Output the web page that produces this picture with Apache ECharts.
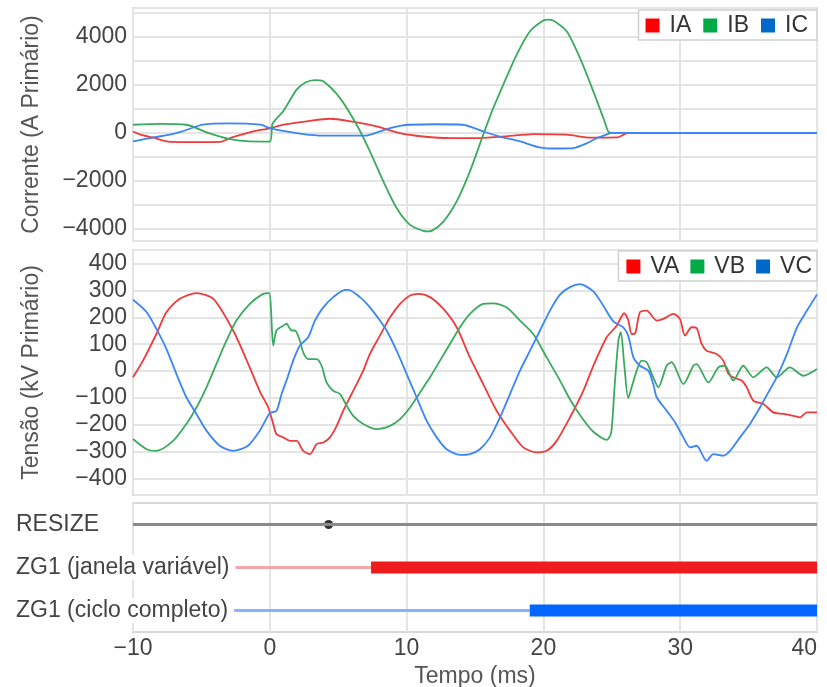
<!DOCTYPE html>
<html>
<head>
<meta charset="utf-8">
<script src="https://cdn.jsdelivr.net/npm/echarts@6/dist/echarts.min.js"></script>
<style>
  html, body { margin: 0; padding: 0; background: #fff; }
  #chart-container { width: 827px; height: 687px; }
</style>
</head>
<body>
<div id="chart-container"></div>
<script>
var IA = [[-10, 60], [-9.5, -60], [-8.5, -200], [-7.3, -370], [-5.5, -380], [-3.6, -370], [-2.8, -200],
  [-1.2, 60], [0, 190], [1.0, 340], [2.7, 480], [4.4, 590], [5.9, 480], [7.8, 270], [9.5, -10],
  [11.2, -150], [13.2, -220], [15.1, -220], [17.1, -150], [19.3, -50], [21.7, -75], [23.5, -200],
  [25.4, -190], [25.9, -60], [26.2, 0], [40, 0]];
var IB = [[-10, 340], [-8, 380], [-6.1, 340], [-4.5, 0], [-3.0, -250], [-1.5, -354], [0, -360],
  [0.2, 380], [0.98, 900], [1.96, 1800], [2.6, 2100], [3.3, 2200], [3.91, 2150], [5.13, 1450],
  [6.35, 340], [7.32, -770], [8.3, -2020], [9.27, -3130], [10.25, -3830], [11.22, -4080],
  [11.5, -4100], [11.83, -4080], [12.69, -3690], [13.66, -2850], [14.63, -1600], [15.6, -80],
  [16.33, 1030], [17.07, 2010], [18.05, 3260], [19.02, 4230], [19.99, 4680], [20.35, 4720],
  [20.72, 4680], [21.7, 4230], [22.67, 3120], [23.65, 1730], [24.38, 620], [24.74, 60], [25.0, 0], [40, 0]];
var IC = [[-10, -354], [-8.8, -217], [-7.3, -75], [-6.4, 62], [-4.9, 342], [-3, 400], [-0.7, 342],
  [0, 200], [1.2, 60], [2.9, -80], [4.5, -115], [7.0, -115], [8.0, 50], [8.8, 200], [9.6, 300],
  [10.2, 340], [12.0, 360], [14.1, 340], [15.6, 60], [16.8, -150], [18.3, -354], [19.7, -600],
  [21.0, -650], [22.2, -630], [23.2, -425], [23.9, -217], [24.6, -75], [25.0, 0], [40, 0]];

var VA = [[-10, -23], [-9.27, 39], [-8.29, 138], [-7.56, 219], [-6.58, 269], [-5.36, 290], [-4.14, 269],
  [-2.68, 151], [-1.6, 30], [-0.72, -76], [-0.11, -135], [0.25, -196], [0.49, -234], [0.98, -246],
  [1.47, -259], [1.96, -259], [2.44, -296], [2.94, -308], [3.42, -271], [3.91, -265], [4.4, -246],
  [4.89, -203], [5.37, -147], [5.86, -97], [6.35, -48], [6.83, 2], [7.32, 64], [8.05, 132], [8.79, 200],
  [9.52, 250], [10.25, 281], [10.86, 287], [11.71, 275], [12.69, 231], [13.66, 163], [14.63, 51],
  [15.6, -48], [16.58, -147], [17.56, -221], [18.53, -283], [19.51, -302], [20.24, -296], [20.97, -259],
  [21.94, -172], [22.92, -73], [23.65, 20], [24.63, 126], [25.36, 169], [25.9, 215], [26.21, 188],
  [26.45, 138], [26.7, 140], [27.06, 219], [27.55, 225], [28.28, 188], [28.77, 194], [29.5, 213],
  [29.98, 194], [30.35, 132], [30.84, 163], [31.2, 160], [31.57, 101], [31.93, 76], [32.66, 64],
  [33.15, 39], [33.52, -10], [33.88, -23], [34.49, -35], [34.86, -60], [35.35, -110], [36.08, -122],
  [36.81, -153], [37.54, -159], [38.27, -166], [38.76, -172], [39.25, -153], [40, -153]];
var VB = [[-10, -252], [-9.0, -290], [-8.29, -296], [-7.07, -259], [-6.10, -196], [-5.36, -135],
  [-4.63, -60], [-3.9, 27], [-3.17, 113], [-2.44, 188], [-1.46, 250], [-0.49, 287], [-0.05, 290],
  [0.25, 95], [0.49, 151], [0.98, 169], [1.22, 176], [1.59, 151], [1.84, 151], [2.2, 113], [2.44, 70],
  [2.81, 45], [3.42, 45], [3.79, 20], [4.15, -42], [4.64, -73], [5.13, -85], [5.62, -128], [6.1, -166],
  [6.83, -196], [7.81, -215], [8.79, -203], [9.52, -178], [10.25, -135], [10.98, -79], [11.71, -23],
  [12.44, 39], [13.17, 101], [13.9, 163], [14.63, 213], [15.6, 250], [16.33, 252], [17.3, 237],
  [18.29, 188], [19.26, 138], [20.24, 51], [21.21, -35], [22.0, -110], [22.8, -172], [23.65, -225],
  [24.63, -255], [24.95, -230], [25.2, -60], [25.48, 113], [25.66, 145], [25.9, 30], [26.2, -100],
  [26.45, -60], [26.82, 2], [27.18, 39], [27.55, 33], [28.03, -23], [28.4, -60], [29.01, 20],
  [29.38, 33], [30.23, -48], [30.96, 20], [31.2, 26], [32.06, -42], [32.79, 14], [33.27, 20],
  [33.88, -35], [34.61, 20], [35.34, -23], [36.32, 14], [37.05, -23], [38.02, 14], [39.0, -17], [40, 8]];
var VC = [[-10, 265], [-9.0, 219], [-8.29, 157], [-7.56, 83], [-6.83, -10], [-6.1, -97], [-5.36, -159],
  [-4.63, -221], [-3.66, -277], [-2.68, -296], [-1.6, -277], [-0.72, -220], [0, -156], [0.49, -147],
  [0.86, -85], [1.22, -35], [1.71, 39], [2.2, 95], [2.81, 126], [3.3, 188], [3.91, 237], [4.64, 275],
  [5.5, 302], [5.74, 302], [6.59, 275], [7.32, 237], [8.05, 188], [8.54, 151], [9.27, 76], [10.0, -10],
  [10.73, -97], [11.46, -184], [12.2, -246], [12.93, -290], [13.9, -311], [14.63, -308], [15.36, -290],
  [16.1, -246], [16.83, -172], [17.56, -85], [18.29, 2], [19.02, 76], [19.75, 151], [20.48, 225],
  [21.21, 284], [21.94, 312], [22.67, 323], [23.65, 296], [24.38, 243], [25.11, 185], [25.84, 163],
  [26.21, 130], [26.58, 51], [27.06, 20], [27.67, 2], [28.03, -48], [28.28, -97], [29.01, -147],
  [29.62, -190], [30.23, -246], [30.72, -283], [31.2, -277], [31.93, -333], [32.42, -308], [33.15, -314],
  [33.64, -296], [34.37, -246], [35.1, -196], [35.83, -135], [36.44, -79], [37.05, -23], [37.81, 64],
  [38.54, 163], [39.27, 225], [40, 285]];

var eventRows = ['RESIZE', 'ZG1 (janela variável)', 'ZG1 (ciclo completo)'];
var tempoLimites = [-10, 40];
var resizeTempos = [4.3];
var zg1JanelaInicio = 7.4;
var zg1CicloInicio = 19.0;

var dom = document.getElementById('chart-container');
var myChart = echarts.init(dom, null, { renderer: 'canvas' });

var fonte = "'Liberation Sans', Arial, sans-serif";
var gridLine = { show: true, lineStyle: { color: '#e4e4e4', width: 2 } };
var menos = function (v) { return String(v).replace('-', '\u2212'); };

function xAx(i) {
  return {
    type: 'value', gridIndex: i, min: tempoLimites[0], max: tempoLimites[1], interval: 10,
    axisLine: { show: false }, axisTick: { show: false },
    axisLabel: { show: i === 2, fontSize: 23, color: '#444', margin: 5, formatter: menos, alignMaxLabel: 'right' },
    splitLine: gridLine,
    name: i === 2 ? 'Tempo (ms)' : '', nameLocation: 'middle', nameGap: 33,
    nameTextStyle: { fontSize: 23, color: '#555' }
  };
}

function linha(name, data, color, legendColor, ax) {
  return {
    name: name, type: 'line', xAxisIndex: ax, yAxisIndex: ax, data: data,
    showSymbol: false, smooth: 0.25, clip: true,
    itemStyle: { color: legendColor },
    lineStyle: { color: color, width: 1.8 }
  };
}

function faixa(row, x0, x1, color, width) {
  return {
    type: 'line', xAxisIndex: 2, yAxisIndex: 2, showSymbol: false, silent: true,
    data: [[x0, row], [x1, row]],
    lineStyle: { color: color, width: width, cap: 'butt' }
  };
}

function painel(top, height) {
  return {
    left: 133, right: 10, top: top, height: height, show: true,
    borderColor: '#d8d8d8', borderWidth: 2, containLabel: false, outerBoundsMode: 'none'
  };
}

var option = {
  animation: false,
  textStyle: { fontFamily: fonte },
  grid: [painel(8, 233), painel(250, 245), painel(503, 129)],
  legend: [
    {
      data: ['IA', 'IB', 'IC'], right: 10, top: 10, icon: 'rect', itemWidth: 14, itemHeight: 14,
      itemGap: 12, padding: [4, 9, 3, 7], backgroundColor: '#fff', borderColor: '#cfcfcf',
      borderWidth: 1.5, selectedMode: false,
      textStyle: { fontSize: 23, color: '#333', padding: [0, 0, 0, 5] }
    },
    {
      data: ['VA', 'VB', 'VC'], right: 10, top: 251, icon: 'rect', itemWidth: 14, itemHeight: 14,
      itemGap: 11, padding: [4, 5, 3, 8], backgroundColor: '#fff', borderColor: '#cfcfcf',
      borderWidth: 1.5, selectedMode: false,
      textStyle: { fontSize: 23, color: '#333', padding: [0, 0, 0, 5] }
    }
  ],
  xAxis: [xAx(0), xAx(1), xAx(2)],
  yAxis: [
    {
      type: 'value', gridIndex: 0, min: -4500, max: 5200, splitNumber: 5,
      axisLine: { show: false }, axisTick: { show: false },
      axisLabel: { fontSize: 23, color: '#444', margin: 6, showMinLabel: false, showMaxLabel: false, formatter: menos },
      splitLine: gridLine,
      minorTick: { show: false, splitNumber: 2 },
      minorSplitLine: gridLine,
      name: 'Corrente (A Primário)', nameLocation: 'middle', nameGap: 90,
      nameTextStyle: { fontSize: 23, color: '#555' }
    },
    {
      type: 'value', gridIndex: 1, min: -460, max: 450, splitNumber: 9,
      axisLine: { show: false }, axisTick: { show: false },
      axisLabel: { fontSize: 23, color: '#444', margin: 6, showMinLabel: false, showMaxLabel: false, formatter: menos },
      splitLine: gridLine,
      name: 'Tensão (kV Primário)', nameLocation: 'middle', nameGap: 90,
      nameTextStyle: { fontSize: 23, color: '#555' }
    },
    {
      type: 'category', gridIndex: 2, data: eventRows, inverse: true, z: 5,
      axisLine: { show: false }, axisTick: { show: false }, splitLine: { show: false },
      axisLabel: {
        fontSize: 23, color: '#444', align: 'left', margin: 117,
        backgroundColor: '#fff', padding: [1, 6, 1, 0]
      }
    }
  ],
  series: [
    linha('IA', IA, '#ee3b3b', '#ff0000', 0),
    linha('IB', IB, '#3aab5e', '#00aa44', 0),
    linha('IC', IC, '#3a85f7', '#0068c8', 0),
    linha('VA', VA, '#ee3b3b', '#ff0000', 1),
    linha('VB', VB, '#3aab5e', '#00aa44', 1),
    linha('VC', VC, '#3a85f7', '#0068c8', 1),
    faixa(eventRows[0], tempoLimites[0], tempoLimites[1], '#8a8a8a', 3),
    {
      type: 'scatter', xAxisIndex: 2, yAxisIndex: 2, symbolSize: 9, silent: true,
      itemStyle: { color: '#000' },
      data: resizeTempos.map(function (t) { return [t, eventRows[0]]; })
    },
    faixa(eventRows[1], tempoLimites[0], zg1JanelaInicio, '#f6a6a6', 3),
    faixa(eventRows[1], zg1JanelaInicio, tempoLimites[1], '#ee1c1c', 12),
    faixa(eventRows[2], tempoLimites[0], zg1CicloInicio, '#86b3ff', 3),
    faixa(eventRows[2], zg1CicloInicio, tempoLimites[1], '#0066ff', 12)
  ]
};

if (option && typeof option === 'object') {
  myChart.setOption(option);
}

window.addEventListener('resize', myChart.resize);
</script>
</body>
</html>
